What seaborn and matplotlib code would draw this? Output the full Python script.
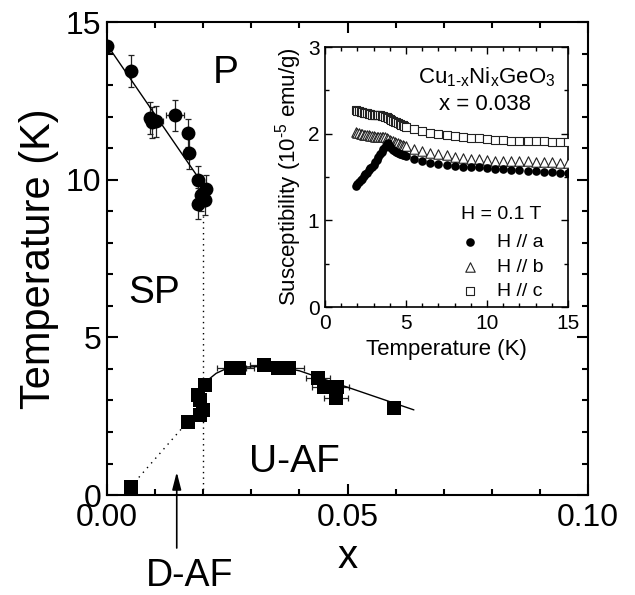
import numpy as np
import pandas as pd
import matplotlib
matplotlib.use("Agg")
import matplotlib.pyplot as plt
from matplotlib.ticker import MultipleLocator, FormatStrFormatter
import seaborn as sns

# ---------------- main panel data ----------------
# SP -> P transition (filled circles)
sp_x = [0.0000, 0.0050, 0.0089, 0.0093, 0.0102, 0.0142, 0.0168, 0.0170, 0.0190, 0.0205, 0.0203, 0.0189, 0.0196]
sp_T = [14.25, 13.45, 11.96, 11.82, 11.85, 12.04, 11.48, 10.85, 9.98, 9.70, 9.37, 9.24, 9.50]
sp_Terr = [0.0, 0.5, 0.5, 0.5, 0.5, 0.5, 0.45, 0.5, 0.45, 0.45, 0.5, 0.5, 0.5]
sp_xerr = [0.0, 0.0, 0.0, 0.0, 0.0015, 0.0019, 0.0, 0.0, 0.0, 0.0, 0.0, 0.0, 0.0]

# AF transition (filled squares)
af_x = [0.0049, 0.0168, 0.0193, 0.0199, 0.0193, 0.0189, 0.0203, 0.0258, 0.0275, 0.0327,
        0.0355, 0.0379, 0.0438, 0.0451, 0.0479, 0.0476, 0.0596]
af_T = [0.26, 2.33, 2.54, 2.70, 3.02, 3.17, 3.49, 4.02, 4.02, 4.13,
        4.02, 4.02, 3.70, 3.44, 3.44, 3.07, 2.75]
af_xerr = [0.0, 0.001, 0.0, 0.0, 0.0, 0.0, 0.0005, 0.003, 0.003, 0.003,
           0.003, 0.003, 0.0025, 0.0025, 0.0025, 0.0025, 0.0]

# guide lines
sp_fit_x = [0.0, 0.0195]
sp_fit_T = [14.28, 9.95]
af_fit_x = [0.0203, 0.0210, 0.0227, 0.0244, 0.0270, 0.0330, 0.0370, 0.0400, 0.0638]
af_fit_T = [3.46, 3.65, 3.86, 3.98, 4.05, 4.08, 4.03, 3.94, 2.70]
daf_x = [0.0049, 0.0168]
daf_T = [0.26, 2.33]
bound_x = [0.020, 0.020]
bound_T = [0.0, 8.85]

# ---------------- inset data ----------------
T_in = [1.9, 2.0, 2.1, 2.2, 2.3, 2.4, 2.5, 2.6, 2.7, 2.8, 2.9, 3.0, 3.1, 3.2, 3.3, 3.4,
        3.5, 3.6, 3.7, 3.8, 3.9, 4.0, 4.1, 4.2, 4.3, 4.4, 4.5, 4.6, 4.7, 4.8, 4.9,
        5.0, 5.5, 6.0, 6.5, 7.0, 7.5, 8.0, 8.5, 9.0, 9.5, 10.0, 10.5, 11.0, 11.5,
        12.0, 12.5, 13.0, 13.5, 14.0, 14.5, 15.0]
chi_a = [1.40, 1.42, 1.44, 1.46, 1.48, 1.51, 1.53, 1.55, 1.58, 1.60, 1.62, 1.64, 1.67, 1.70, 1.73, 1.76,
         1.79, 1.82, 1.85, 1.88, 1.89, 1.86, 1.83, 1.81, 1.80, 1.79, 1.78, 1.77, 1.76, 1.75, 1.75,
         1.74, 1.71, 1.68, 1.66, 1.65, 1.64, 1.63, 1.62, 1.61, 1.61, 1.60, 1.59, 1.59, 1.58,
         1.58, 1.57, 1.57, 1.56, 1.56, 1.55, 1.55]
chi_b = [2.02, 2.01, 2.01, 2.00, 2.00, 1.99, 1.99, 1.98, 1.98, 1.97, 1.97, 1.97, 1.96, 1.96, 1.96, 1.96,
         1.96, 1.96, 1.96, 1.95, 1.94, 1.93, 1.92, 1.91, 1.90, 1.89, 1.89, 1.88, 1.87, 1.87, 1.86,
         1.86, 1.82, 1.80, 1.78, 1.76, 1.75, 1.73, 1.72, 1.71, 1.71, 1.70, 1.69, 1.69, 1.68,
         1.68, 1.68, 1.67, 1.67, 1.67, 1.66, 1.66]
chi_c = [2.27, 2.26, 2.26, 2.25, 2.25, 2.24, 2.24, 2.24, 2.23, 2.23, 2.22, 2.22, 2.22, 2.21, 2.21, 2.21,
         2.20, 2.20, 2.19, 2.19, 2.18, 2.17, 2.16, 2.15, 2.14, 2.13, 2.12, 2.11, 2.10, 2.10, 2.09,
         2.08, 2.05, 2.03, 2.01, 2.00, 1.98, 1.97, 1.96, 1.95, 1.95, 1.94, 1.93, 1.93, 1.92,
         1.92, 1.91, 1.91, 1.91, 1.90, 1.90, 1.90]

# ---------------- style ----------------
sns.set_theme(style="ticks")
plt.rcParams['font.family'] = ['Liberation Sans', 'DejaVu Sans']
plt.rcParams['mathtext.fontset'] = 'custom'
plt.rcParams['mathtext.rm'] = 'Liberation Sans'
plt.rcParams['mathtext.it'] = 'Liberation Sans'
plt.rcParams['mathtext.default'] = 'regular'
plt.rcParams['text.color'] = 'black'
plt.rcParams['axes.labelcolor'] = 'black'
plt.rcParams['xtick.color'] = 'black'
plt.rcParams['ytick.color'] = 'black'

fig = plt.figure(figsize=(6.35, 5.95), dpi=100)
ax = fig.add_axes([0.1685, 0.168, 0.7575, 0.795])

# error bars
ax.errorbar(sp_x, sp_T, yerr=sp_Terr, xerr=sp_xerr, fmt='none', ecolor='#222222',
            elinewidth=0.9, capsize=2.5, capthick=0.9, zorder=2)
ax.errorbar(af_x, af_T, xerr=af_xerr, fmt='none', ecolor='#222222',
            elinewidth=0.9, capsize=2.5, capthick=0.9, zorder=2)

# lines
sns.lineplot(x=sp_fit_x, y=sp_fit_T, ax=ax, color='black', lw=1.0, sort=False, estimator=None, zorder=3)
sns.lineplot(x=af_fit_x, y=af_fit_T, ax=ax, color='black', lw=1.0, sort=False, estimator=None, zorder=3)
ax.plot(daf_x, daf_T, color='black', lw=1.0, ls=(0, (1, 3.5)), zorder=1)
ax.plot(bound_x, bound_T, color='black', lw=1.0, ls=(0, (1, 3.0)), zorder=1)

# markers
sns.scatterplot(x=sp_x, y=sp_T, ax=ax, marker='o', s=10.0**2, color='black', linewidth=0, zorder=4)
sns.scatterplot(x=af_x, y=af_T, ax=ax, marker='s', s=9.4**2, color='black', linewidth=0, zorder=4)

ax.set_xlim(0, 0.10)
ax.set_ylim(0, 15)
ax.xaxis.set_major_locator(MultipleLocator(0.05))
ax.xaxis.set_minor_locator(MultipleLocator(0.01))
ax.xaxis.set_major_formatter(FormatStrFormatter('%.2f'))
ax.yaxis.set_major_locator(MultipleLocator(5))
ax.yaxis.set_minor_locator(MultipleLocator(1))
ax.tick_params(which='both', direction='in', top=True, right=True, width=1.5, colors='black')
ax.tick_params(which='major', length=8, labelsize=23)
ax.tick_params(axis='x', which='major', pad=6)
ax.tick_params(axis='y', which='major', pad=4)
ax.tick_params(which='minor', length=4)
for sp in ax.spines.values():
    sp.set_linewidth(1.5)
    sp.set_color('black')
ax.set_xlabel('x', fontsize=29, labelpad=3)
ax.set_ylabel('Temperature (K)', fontsize=30, labelpad=5)

# region labels
ax.text(0.0246, 13.37, 'P', fontsize=28, ha='center', va='center')
ax.text(0.0097, 6.41, 'SP', fontsize=28, ha='center', va='center')
ax.text(0.0389, 1.05, 'U-AF', fontsize=28, ha='center', va='center')
ax.text(0.0172, -2.58, 'D-AF', fontsize=27, ha='center', va='center', clip_on=False)
ax.annotate('', xy=(0.0145, 0.73), xytext=(0.0145, -1.68),
            arrowprops=dict(arrowstyle='-|>,head_length=0.7,head_width=0.18', color='black',
                            lw=1.2, mutation_scale=15, shrinkA=0, shrinkB=0),
            annotation_clip=False)

# ---------------- inset ----------------
axi = fig.add_axes([0.5118, 0.484, 0.3827, 0.437])
sns.scatterplot(x=T_in, y=chi_c, ax=axi, marker='s', s=6.0**2, facecolor='white',
                edgecolor='#222222', linewidth=0.8, label='H // c', zorder=3)
sns.scatterplot(x=T_in, y=chi_b, ax=axi, marker='^', s=6.8**2, facecolor='white',
                edgecolor='#222222', linewidth=0.8, label='H // b', zorder=4)
sns.scatterplot(x=T_in, y=chi_a, ax=axi, marker='o', s=6.2**2, color='black',
                linewidth=0, label='H // a', zorder=5)
axi.set_xlim(0, 15)
axi.set_ylim(0, 3)
axi.xaxis.set_major_locator(MultipleLocator(5))
axi.xaxis.set_minor_locator(MultipleLocator(1))
axi.yaxis.set_major_locator(MultipleLocator(1))
axi.yaxis.set_minor_locator(MultipleLocator(0.5))
axi.tick_params(which='both', direction='in', top=True, right=True, width=1.0, colors='black')
axi.tick_params(which='major', length=5, labelsize=15)
axi.tick_params(which='minor', length=3)
axi.tick_params(axis='x', which='major', pad=5)
axi.tick_params(axis='y', which='major', pad=4)
for sp in axi.spines.values():
    sp.set_linewidth(1.2)
    sp.set_color('black')
axi.set_xlabel('Temperature (K)', fontsize=16, labelpad=4)
axi.set_ylabel('Susceptibility (10$^{\\text{-}5}$ emu/g)', fontsize=16, labelpad=3)

axi.text(0.95, 0.885, 'Cu$_{1\\text{-}x}$Ni$_x$GeO$_3$', transform=axi.transAxes, fontsize=16,
         ha='right', va='center')
axi.text(0.66, 0.78, 'x = 0.038', transform=axi.transAxes, fontsize=16,
         ha='center', va='center')

handles, labels = axi.get_legend_handles_labels()
order = [labels.index('H // a'), labels.index('H // b'), labels.index('H // c')]
leg = axi.legend([handles[i] for i in order], [labels[i] for i in order],
                 title='H = 0.1 T', loc='upper left', bbox_to_anchor=(0.555, 0.39),
                 frameon=False, fontsize=14, title_fontsize=14, borderpad=0, borderaxespad=0,
                 handletextpad=0.9, labelspacing=0.35, handlelength=1.0, scatterpoints=1)
leg._legend_box.sep = 8

fig.savefig('out.png', dpi=100)
